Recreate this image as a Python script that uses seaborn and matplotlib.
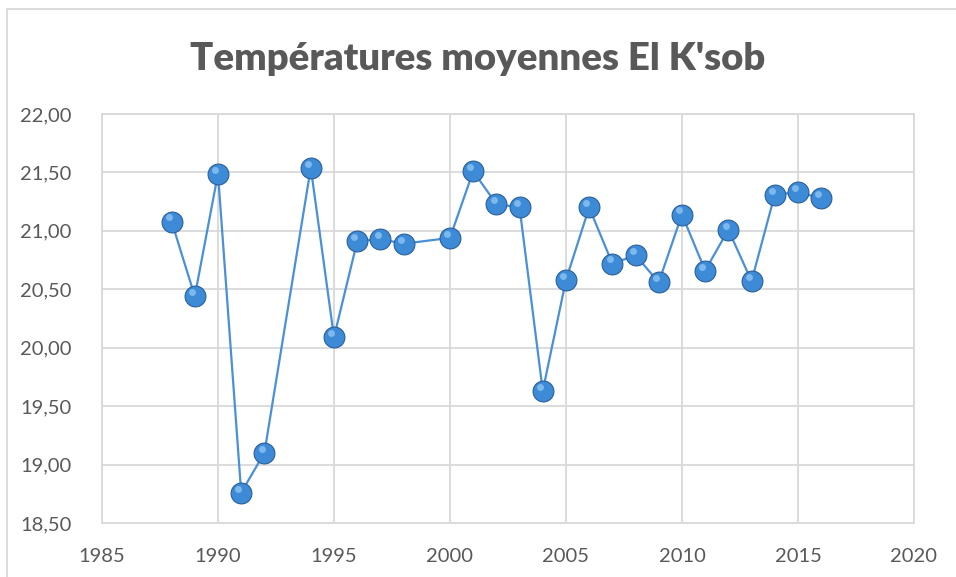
import numpy as np
import pandas as pd
import seaborn as sns
import matplotlib.pyplot as plt
from matplotlib.patches import Rectangle
from matplotlib.ticker import FuncFormatter

years = [1988, 1989, 1990, 1991, 1992, 1994, 1995, 1996, 1997, 1998,
         2000, 2001, 2002, 2003, 2004, 2005, 2006, 2007, 2008, 2009,
         2010, 2011, 2012, 2013, 2014, 2015, 2016]
temps = [21.08, 20.44, 21.49, 18.76, 19.10, 21.54, 20.09, 20.91, 20.93, 20.89,
         20.94, 21.51, 21.23, 21.20, 19.63, 20.58, 21.20, 20.72, 20.79, 20.56,
         21.14, 20.66, 21.01, 20.57, 21.31, 21.33, 21.28]

df = pd.DataFrame({'annee': years, 'temp': temps})

sns.set_style('white')
plt.rcParams['font.family'] = ['Lato', 'DejaVu Sans']

grey = '#595959'
gridc = '#D9D9D9'

fig = plt.figure(figsize=(9.56, 5.77), dpi=100)
ax = fig.add_axes([0.1067, 0.0936, 0.8493, 0.7088])

sns.lineplot(data=df, x='annee', y='temp', ax=ax, color='#4A90D9', linewidth=1.6,
             marker='o', markersize=15, markerfacecolor='#3D8AD6',
             markeredgecolor='#2A609A', markeredgewidth=0.8, zorder=3)
# little highlight on the balls
ax.plot(df['annee'] - 0.12, df['temp'] + 0.035, 'o', color='#8CC4F2',
        markersize=5, markeredgewidth=0, zorder=4, alpha=0.8)

ax.set_xlim(1985, 2020)
ax.set_ylim(18.5, 22.0)
ax.set_xticks(np.arange(1985, 2021, 5))
ax.set_yticks(np.arange(18.5, 22.01, 0.5))
ax.yaxis.set_major_formatter(FuncFormatter(lambda v, p: f'{v:.2f}'.replace('.', ',')))
ax.grid(True, color=gridc, linewidth=1.3)
ax.set_axisbelow(True)
for s in ax.spines.values():
    s.set_color(gridc)
    s.set_linewidth(1.3)
ax.tick_params(axis='both', length=0, labelsize=14.5, labelcolor=grey)
ax.tick_params(axis='x', pad=18)
ax.tick_params(axis='y', pad=22)
ax.set_xlabel('')
ax.set_ylabel('')

fig.text(0.5, 0.898, "Températures moyennes El K'sob", ha='center', va='center',
         fontsize=27.5, fontweight='heavy', color=grey)

fig.patches.append(Rectangle((7 / 956, -0.1), 1.2, (577 - 9) / 577 + 0.1,
                             transform=fig.transFigure, fill=False,
                             edgecolor=gridc, linewidth=1.3))

fig.savefig('out.png', dpi=100)
